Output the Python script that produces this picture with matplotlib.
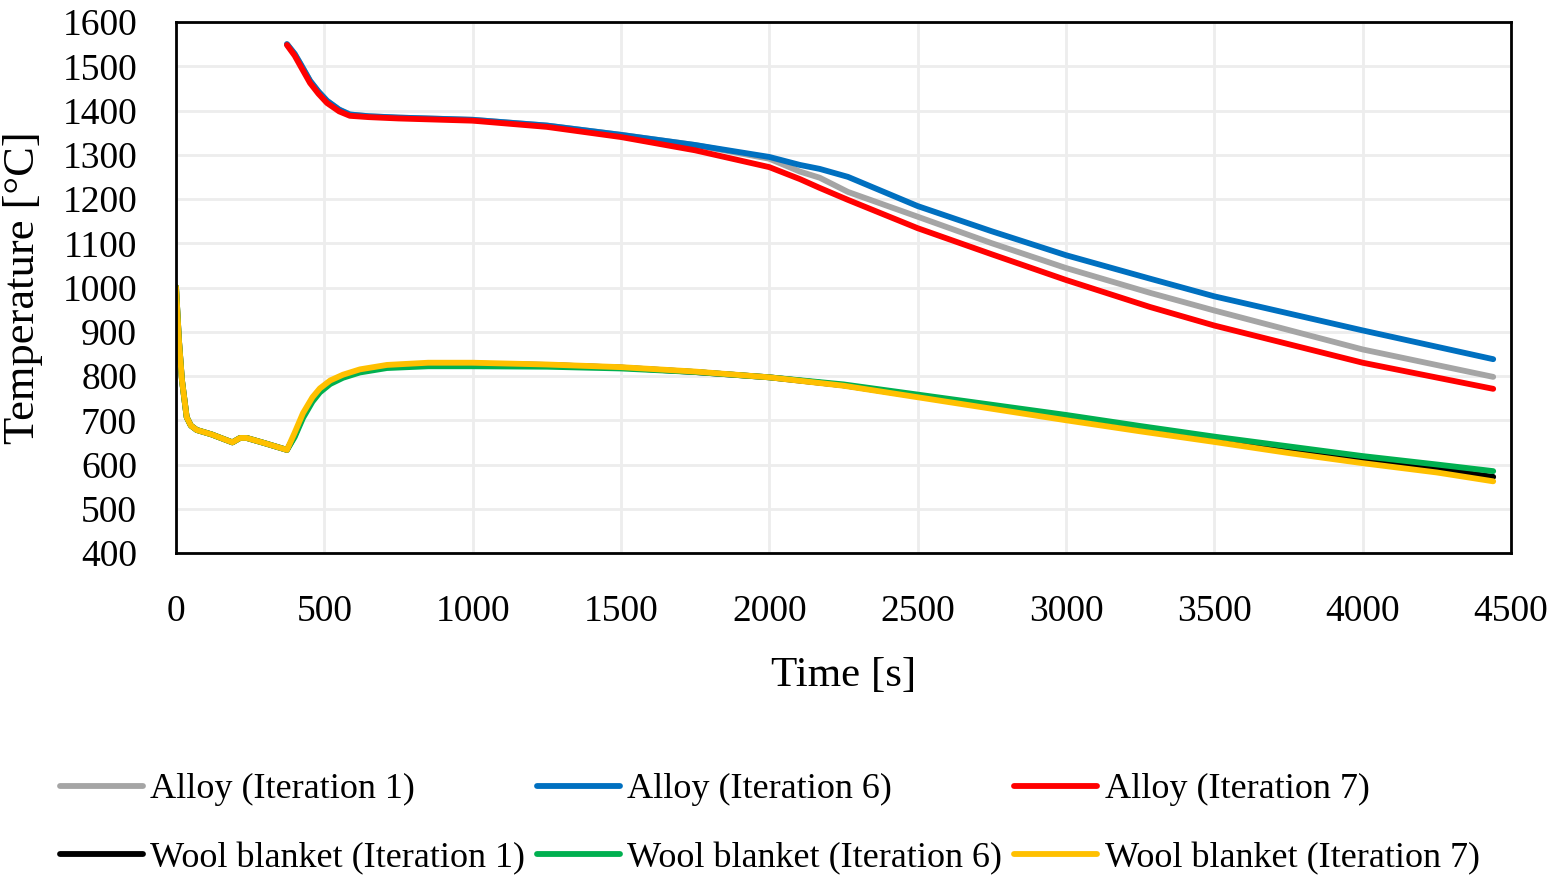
import matplotlib
matplotlib.use("Agg")
import matplotlib.pyplot as plt

plt.rcParams['font.family'] = ['Liberation Serif', 'DejaVu Serif']

# ALLOY CURVES - - - - - - - - - - - - - - - - - - - - - - - - - - - - - - - - - - - - - - - -
alloy_t = [374, 400, 420, 452, 480, 509, 550, 586, 650, 750, 1000, 1250, 1500, 1750, 2000,
           2103, 2170, 2265, 2500, 2750, 3000, 3283, 3500, 4000, 4440]
alloy_it1 = [1550, 1528, 1505, 1467, 1443, 1422, 1402, 1391, 1387, 1384, 1379, 1366, 1345, 1322, 1291,
             1262, 1248, 1216, 1160, 1100, 1044, 988, 948, 860, 798]
alloy_it6 = [1550, 1528, 1505, 1467, 1443, 1422, 1402, 1391, 1387, 1384, 1379, 1366, 1345, 1322, 1295,
             1277, 1268, 1250, 1184, 1127, 1073, 1020, 980, 903, 838]
alloy_it7 = [1548, 1524, 1500, 1462, 1438, 1417, 1398, 1388, 1385, 1382, 1377, 1363, 1340, 1310, 1272,
             1245, 1225, 1198, 1134, 1075, 1017, 956, 914, 830, 771]

# WOOL BLANKET CURVES - - - - - - - - - - - - - - - - - - - - - - - - - - - - - - - - - - - - -
wool_t = [0, 10, 20, 36, 50, 70, 120, 190, 216, 238, 300, 374, 400, 428, 460, 485, 520, 563,
          620, 711, 850, 1000, 1250, 1500, 1750, 2000, 2250, 2500, 2750, 3000, 3250, 3500,
          3750, 4000, 4250, 4440]
wool_it1 = [1001, 880, 791, 707, 688, 678, 668, 650, 660, 660, 648, 633, 665, 710, 748, 769, 787, 800,
            812, 822, 827, 828, 825, 819, 809, 797, 779, 754, 729, 704, 680, 656, 632, 610, 590, 572]
wool_it6 = [1001, 880, 791, 707, 688, 678, 668, 650, 660, 660, 648, 633, 662, 705, 742, 763, 782, 796,
            808, 818, 822, 822, 821, 817, 809, 797, 781, 758, 735, 712, 687, 663, 641, 619, 600, 585]
wool_it7 = [1001, 880, 791, 707, 688, 678, 668, 650, 660, 660, 648, 633, 672, 716, 752, 772, 790, 803,
            815, 825, 830, 830, 826, 820, 810, 797, 778, 752, 726, 700, 675, 651, 626, 603, 582, 562]

labels = ['Alloy (Iteration 1)', 'Alloy (Iteration 6)', 'Alloy (Iteration 7)',
          'Wool blanket (Iteration 1)', 'Wool blanket (Iteration 6)', 'Wool blanket (Iteration 7)']
colors = ['#A5A5A5', '#0070C0', '#FF0000', '#000000', '#00B050', '#FFC000']

# CREATE PLOT  - - - - - - - - - - - - - - - - - - - - - - - - - - - - - - - - - - - - - - - - -
fig = plt.figure(figsize=(15.56, 8.8), dpi=100)
ax = fig.add_axes([176 / 1556, 1 - 553 / 880, (1511 - 176) / 1556, (553 - 22) / 880])

series = [(alloy_t, alloy_it1), (alloy_t, alloy_it6), (alloy_t, alloy_it7),
          (wool_t, wool_it1), (wool_t, wool_it6), (wool_t, wool_it7)]
handles = []
for (t, y), lab, c in zip(series, labels, colors):
    h, = ax.plot(t, y, color=c, linewidth=4.2, label=lab, solid_capstyle='round',
                 solid_joinstyle='round')
    handles.append(h)

ax.set_xlim(0, 4500)
ax.set_ylim(400, 1600)
ax.set_xticks(range(0, 4501, 500))
ax.set_yticks(range(400, 1601, 100))
ax.grid(True, color='#EDEDED', linewidth=2)
ax.set_axisbelow(True)
for sp in ax.spines.values():
    sp.set_linewidth(2)
    sp.set_color('black')
ax.tick_params(length=0, labelsize=27)
ax.tick_params(axis='y', pad=28)
ax.tick_params(axis='x', pad=30)
ax.set_xlabel('Time [s]', fontsize=31, labelpad=20)
ax.set_ylabel('Temperature [°C]', fontsize=32, labelpad=14)

order = [0, 3, 1, 4, 2, 5]
fig.legend([handles[i] for i in order], [labels[i] for i in order], ncol=3, frameon=False,
           loc='upper left', bbox_to_anchor=(60 / 1556, 1 - 773 / 880), fontsize=26,
           borderpad=0, borderaxespad=0,
           handlelength=2.3, handletextpad=0.2, columnspacing=0.33, labelspacing=0.98)

fig.savefig('out.png', dpi=100)
